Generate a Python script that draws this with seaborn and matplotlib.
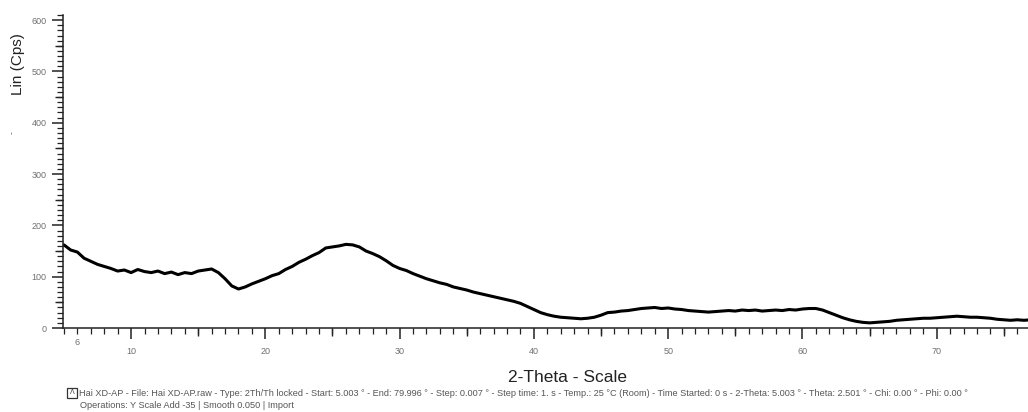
import numpy as np
import pandas as pd
import seaborn as sns
import matplotlib.pyplot as plt
from matplotlib.ticker import MultipleLocator, FixedLocator, NullFormatter

# XRD scan, 0.5 degree steps
two_theta = np.arange(5.0, 77.01, 0.5)
counts = [
    162, 152, 148, 136, 130, 124, 120, 116, 111, 113,
    108, 114, 110, 108, 111, 106, 109, 104, 108, 106,
    111, 113, 115, 108, 96, 82, 76, 80, 86, 91,
    96, 102, 106, 114, 120, 128, 134, 141, 147, 156,
    158, 160, 163, 162, 158, 150, 145, 139, 131, 122,
    116, 112, 106, 101, 96, 92, 88, 85, 80, 77,
    74, 70, 67, 64, 61, 58, 55, 52, 48, 42,
    36, 30, 26, 23, 21, 20, 19, 18, 19, 21,
    25, 30, 31, 33, 34, 36, 38, 39, 40, 38,
    39, 37, 36, 34, 33, 32, 31, 32, 33, 34,
    33, 35, 34, 35, 33, 34, 35, 34, 36, 35,
    37, 38, 38, 35, 30, 25, 20, 16, 13, 11,
    10, 11, 12, 13, 15, 16, 17, 18, 19, 19,
    20, 21, 22, 23, 22, 21, 21, 20, 19, 17,
    16, 15, 16, 15, 16,
]
x_major = [10, 20, 30, 40, 50, 60, 70]
y_major = [0, 100, 200, 300, 400, 500, 600]

footer1 = ("Hai XD-AP - File: Hai XD-AP.raw - Type: 2Th/Th locked - Start: 5.003 \u00b0 - "
           "End: 79.996 \u00b0 - Step: 0.007 \u00b0 - Step time: 1. s - Temp.: 25 \u00b0C (Room) - "
           "Time Started: 0 s - 2-Theta: 5.003 \u00b0 - Theta: 2.501 \u00b0 - Chi: 0.00 \u00b0 - "
           "Phi: 0.00 \u00b0")
footer2 = "Operations: Y Scale Add -35 | Smooth 0.050 | Import"

df = pd.DataFrame({"2theta": two_theta, "lin": counts})

sns.set_style("ticks")
plt.rcParams['font.family'] = ['Liberation Sans', 'DejaVu Sans']

W, H = 1028, 412
fig = plt.figure(figsize=(W / 100, H / 100), dpi=100)
ax = fig.add_axes([63 / W, (H - 328) / H, (1071 - 63) / W, (328 - 15) / H])

sns.lineplot(data=df, x="2theta", y="lin", ax=ax, color="black", linewidth=2.2)

ax.set_xlim(4.93, 80.0)
ax.set_ylim(0, 610)
ax.set_xlabel("")
ax.set_ylabel("")
sns.despine(ax=ax)
for s in ["left", "bottom"]:
    ax.spines[s].set_linewidth(1.1)
    ax.spines[s].set_color("#222222")

ax.xaxis.set_major_locator(FixedLocator(x_major))
ax.xaxis.set_minor_locator(MultipleLocator(1))
ax.yaxis.set_major_locator(FixedLocator(y_major))
ax.yaxis.set_minor_locator(MultipleLocator(10))
ax.tick_params(axis="x", which="major", length=8, width=1.1, pad=6,
               labelsize=6.5, labelcolor="#707070", color="#222222")
ax.tick_params(axis="y", which="major", length=8, width=1.1, pad=4,
               labelsize=6.5, labelcolor="#707070", color="#222222")
ax.tick_params(which="minor", length=4, width=0.9, color="#222222")

# medium ticks at the fives
secx = ax.secondary_xaxis(0)
secx.set_xticks([15, 25, 35, 45, 55, 65, 75])
secx.xaxis.set_major_formatter(NullFormatter())
secx.tick_params(length=6, width=1.0, color="#222222")
secx.spines["bottom"].set_visible(False)
secy = ax.secondary_yaxis(0)
secy.set_yticks([50, 150, 250, 350, 450, 550])
secy.yaxis.set_major_formatter(NullFormatter())
secy.tick_params(length=6, width=1.0, color="#222222")
secy.spines["left"].set_visible(False)

ax.text(6, -20, "6", transform=ax.transData, ha="center", va="top",
        fontsize=6.5, color="#707070", clip_on=False)

fig.text(567 / W, 1 - 377 / H, "2-Theta - Scale", ha="center", va="center",
         fontsize=12.5, color="#222222")
fig.text(18 / W, 1 - 64 / H, "Lin (Cps)", ha="center", va="center",
         rotation=90, fontsize=11, color="#222222")
fig.text(12 / W, 1 - 133 / H, "-", ha="center", va="center", rotation=90,
         fontsize=6, color="#444444")

# scan icon box + footer lines
fig.patches.append(plt.Rectangle((67 / W, 1 - 398 / H), 10 / W, 10 / H,
                                 transform=fig.transFigure, fill=False,
                                 edgecolor="#333333", linewidth=0.9))
fig.text(72 / W, 1 - 393 / H, "\u039b", ha="center", va="center", fontsize=5, color="#333333")
fig.text(79 / W, 1 - 393 / H, footer1, ha="left", va="center", fontsize=6.6, color="#555555")
fig.text(80 / W, 1 - 406 / H, footer2, ha="left", va="center", fontsize=6.6, color="#555555")

fig.savefig("out.png", dpi=100)
